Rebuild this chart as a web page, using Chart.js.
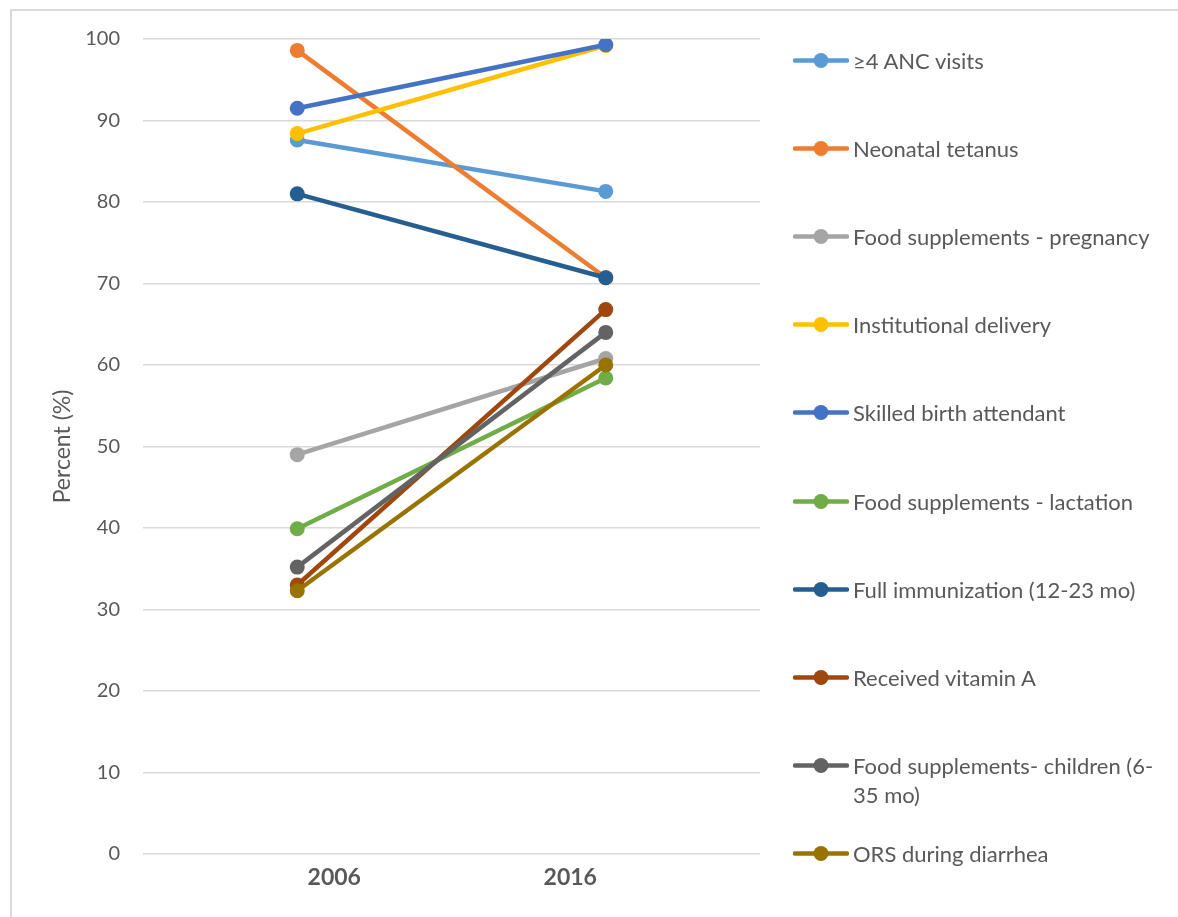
<!DOCTYPE html>
<html>
<head>
<meta charset="utf-8">
<script src="https://cdn.jsdelivr.net/npm/chart.js@4.4.1/dist/chart.umd.min.js"></script>
<style>
  html, body { margin: 0; padding: 0; background: #ffffff; }
  #wrap { position: relative; width: 1178px; height: 917px; overflow: hidden; background: #ffffff; }
  #frame { position: absolute; left: 10px; top: 9px; right: -10px; bottom: -10px;
           border-top: 2px solid #d9d9d9; border-left: 2px solid #d9d9d9; }
  #chart { position: absolute; left: 0; top: 0; }
  #legend { position: absolute; left: 0; top: 0; width: 1178px; height: 917px; pointer-events: none;
            font-family: Lato, "Open Sans", sans-serif; font-size: 22px; color: #595959; }
  .item { position: absolute; left: 793px; display: flex; align-items: flex-start; }
  .item svg { flex: none; margin-right: 4px; }
  .item span { white-space: pre-line; line-height: 29px; }
</style>
</head>
<body>
<div id="wrap">
  <div id="frame"></div>
  <canvas id="chart" width="1178" height="917"></canvas>
  <div id="legend"></div>
</div>
<script>
// Survey years
const categories = ['2006', '2016'];

// Coverage of each indicator (%), 2006 then 2016
const ancVisits          = [87.6, 81.3];
const neonatalTetanus    = [98.6, 70.7];
const suppPregnancy      = [49.0, 60.8];
const institutionalBirth = [88.4, 99.2];
const skilledAttendant   = [91.5, 99.3];
const suppLactation      = [39.9, 58.4];
const fullImmunization   = [81.0, 70.7];
const vitaminA           = [33.0, 66.8];
const suppChildren       = [35.2, 64.0];
const orsDiarrhea        = [32.3, 60.0];

const seriesLabels = [
  '≥4 ANC visits',
  'Neonatal tetanus',
  'Food supplements - pregnancy',
  'Institutional delivery',
  'Skilled birth attendant',
  'Food supplements - lactation',
  'Full immunization (12-23 mo)',
  'Received vitamin A',
  'Food supplements- children (6-\n35 mo)',
  'ORS during diarrhea'
];
const seriesValues = [
  ancVisits, neonatalTetanus, suppPregnancy, institutionalBirth, skilledAttendant,
  suppLactation, fullImmunization, vitaminA, suppChildren, orsDiarrhea
];

// Value axis ticks
const yTicks = [0, 10, 20, 30, 40, 50, 60, 70, 80, 90, 100];

const palette = ['#5B9BD5', '#ED7D31', '#A5A5A5', '#FFC000', '#4472C4',
                 '#70AD47', '#255E91', '#9E480E', '#636363', '#997300'];

const TEXT = '#595959';
const FONT = 'Lato, "Open Sans", sans-serif';

// category i sits at x = 2i+1 on a 0..4 linear axis
const catX = i => 2 * i + 1;
const n = seriesValues.length;

const datasets = seriesValues.map((vals, s) => ({
  label: seriesLabels[s].replace('\n', ''),
  data: vals.map((v, i) => ({ x: catX(i), y: v })),
  borderColor: palette[s],
  backgroundColor: palette[s],
  borderWidth: 4.5,
  pointRadius: 7.5,
  pointHoverRadius: 7.5,
  pointBorderWidth: 0,
  pointBackgroundColor: palette[s],
  tension: 0,
  order: n - 1 - s
}));

new Chart(document.getElementById('chart'), {
  type: 'line',
  data: { datasets },
  options: {
    responsive: false,
    devicePixelRatio: 1,
    animation: false,
    layout: { padding: { left: 45, top: 39, right: 418, bottom: 0 } },
    plugins: { legend: { display: false }, tooltip: { enabled: false } },
    scales: {
      x: {
        type: 'linear',
        min: 0,
        max: 4,
        grid: { display: false, drawTicks: false },
        border: { display: false },
        afterBuildTicks: sc => { sc.ticks = [{ value: 1.24 }, { value: 2.77 }]; },
        afterFit: sc => { sc.height = 63; },
        ticks: {
          padding: 10,
          color: TEXT,
          font: { family: FONT, size: 23, weight: 'bold' },
          callback: (v, i) => categories[i]
        }
      },
      y: {
        min: 0,
        max: 100,
        grid: { color: '#d9d9d9', lineWidth: 1.5, drawTicks: false },
        border: { display: false },
        afterBuildTicks: sc => { sc.ticks = yTicks.map(v => ({ value: v })); },
        afterFit: sc => { sc.width = 98; },
        ticks: { padding: 23, color: TEXT, font: { family: FONT, size: 20 } },
        title: {
          display: true,
          text: 'Percent (%)',
          color: TEXT,
          padding: { top: 4, bottom: 4 },
          font: { family: FONT, size: 23 }
        }
      }
    }
  }
});

// Legend on the right, one row per indicator
const legend = document.getElementById('legend');
seriesLabels.forEach((label, s) => {
  const row = document.createElement('div');
  row.className = 'item';
  row.style.top = (60 + s * 88.2 - 14.5) + 'px';
  row.innerHTML =
    '<svg width="56" height="29" viewBox="0 0 56 29">' +
    '<line x1="2" y1="14.5" x2="54" y2="14.5" stroke="' + palette[s] + '" stroke-width="4.5" stroke-linecap="round"/>' +
    '<circle cx="28" cy="14.5" r="7.5" fill="' + palette[s] + '"/></svg>';
  const span = document.createElement('span');
  span.textContent = label;
  row.appendChild(span);
  legend.appendChild(row);
});
</script>
</body>
</html>
